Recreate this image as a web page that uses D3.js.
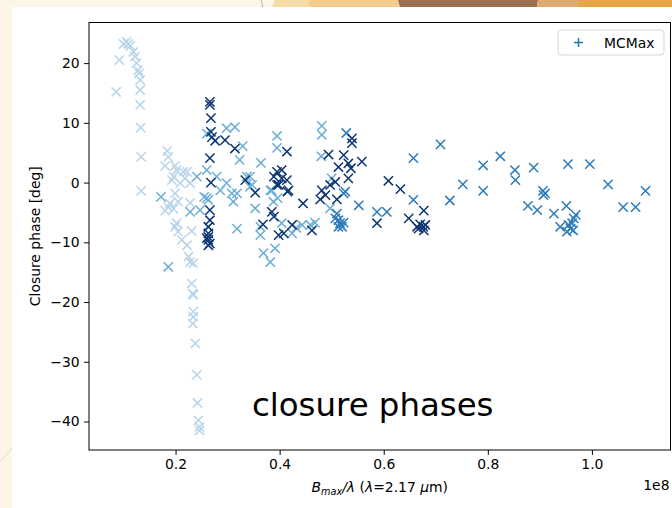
<!DOCTYPE html>
<html>
<head>
<meta charset="utf-8">
<script src="https://cdn.jsdelivr.net/npm/d3@7"></script>
<style>
  html, body { margin: 0; padding: 0; background: #fcf5e8; }
  svg { display: block; }
  text { font-family: "DejaVu Sans", sans-serif; }
</style>
</head>
<body>
<svg id="chart" width="672" height="508"></svg>
<script>
// Closure phases (deg) against B_max/lambda (units of 1e8), four baseline groups.
const shortX = [0.086,0.092,0.100,0.106,0.109,0.113,0.119,0.122,0.125,0.128,0.130,0.132,0.132,0.132,0.133,0.134,0.134,
  0.184,0.186,0.180,0.199,0.202,0.196,0.209,0.222,0.218,0.228,0.199,0.205,0.186,0.180,0.196,0.202,0.199,0.231,0.228,0.215,
  0.193,0.189,0.205,0.212,0.225,0.222,0.228,0.234,0.231,0.233,0.234,0.234,0.234,0.233,0.238,0.241,0.242,0.244,0.246,0.246];
const shortY = [15.2,20.5,23.2,23.6,23.2,22.9,21.9,21.1,20.0,18.8,18.3,17.2,15.5,13.0,9.2,4.3,-1.4,
  5.3,4.3,2.8,2.8,2.1,1.0,-0.1,1.8,0.7,-0.1,-1.8,-3.2,-4.1,-4.7,-4.4,-6.8,-7.4,-8.1,-3.4,1.8,
  0.4,-3.5,-8.2,-9.6,-12.4,-10.5,-13.3,-13.5,-16.9,-18.6,-18.8,-21.6,-22.5,-23.6,-26.9,-32.2,-36.9,-39.8,-40.9,-41.5];

const midX = [0.172,0.186,0.260,0.298,0.314,0.329,0.323,0.364,0.395,0.395,0.241,0.260,0.279,0.298,0.286,0.308,0.318,0.311,0.337,0.343,
  0.353,0.363,0.318,0.228,0.247,0.260,0.255,0.263,0.263,0.385,0.388,0.481,0.481,0.480,0.500,0.396,0.404,0.363,0.369,0.391,
  0.382,0.443,0.459,0.424,0.468,0.343,0.347,0.382,0.497,0.432];
const midY = [-2.4,-14.1,8.2,9.1,9.3,6.1,3.8,3.3,7.8,5.8,1.0,2.1,1.0,-0.1,-1.3,-1.8,-1.8,-3.2,1.0,-0.7,
  -4.3,-7.4,-7.7,-4.9,-4.6,-2.6,-2.4,-2.9,-7.4,-1.3,-3.2,9.5,8.0,4.4,0.7,-2.6,-6.8,-8.8,-11.8,-11.0,
  -13.3,-7.1,-7.1,-8.5,-6.7,1.0,-0.4,-1.3,-4.3,-7.6];

const longX = [0.528,0.523,0.526,0.516,0.523,0.520,0.513,0.552,0.587,0.606,0.657,0.657,0.709,0.727,0.752,0.791,0.791,0.824,0.852,0.853,
  0.888,0.877,0.895,0.906,0.910,0.907,0.927,0.939,0.951,0.954,0.996,1.031,1.060,1.084,1.103,0.952,0.962,0.965,0.969,0.959,
  0.964,0.955,0.510,0.507,0.513];
const longY = [8.3,-1.8,-1.5,-6.8,-6.7,-7.4,-7.4,-3.8,-4.9,-4.9,-2.9,4.1,6.4,-3.0,-0.3,2.9,-1.4,4.4,2.1,0.4,
  2.5,-3.9,-4.6,-1.4,-1.8,-2.1,-5.2,-7.4,-3.9,3.1,3.1,-0.3,-4.1,-4.1,-1.4,-8.2,-6.8,-6.0,-5.4,-7.7,
  -8.0,-7.1,-5.2,-6.0,-6.3];

const darkX = [0.266,0.266,0.268,0.268,0.270,0.276,0.295,0.314,0.266,0.268,0.334,0.353,0.266,0.266,0.263,0.263,0.263,0.263,0.266,0.260,
  0.263,0.385,0.389,0.368,0.389,0.395,0.398,0.398,0.404,0.414,0.417,0.414,0.424,0.445,0.494,0.539,0.539,0.523,0.532,0.513,
  0.537,0.558,0.532,0.507,0.497,0.481,0.488,0.478,0.510,0.609,0.632,0.587,0.648,0.664,0.462,0.408,0.677,0.667,0.676,0.680,
  0.677,0.670,0.404,0.395,0.415];
const darkY = [13.5,13.0,10.8,8.5,7.6,7.0,7.1,5.7,4.1,0.0,0.4,-1.7,-4.6,-6.3,-7.4,-9.1,-9.6,-10.5,-10.2,-9.3,
  -8.5,-4.9,-5.7,-7.0,1.0,1.8,-0.4,-8.8,2.1,0.4,-1.3,5.2,-7.1,-3.5,4.7,7.4,6.6,4.6,3.2,2.6,
  2.4,3.5,0.7,0.1,-0.4,-1.3,-2.1,-2.8,-2.8,0.3,-1.1,-6.8,-6.0,-7.4,-8.0,-8.5,-4.7,-7.7,-7.4,-7.1,
  -8.0,-7.0,0.7,-0.4,-1.5];

const groups = [
  { xs: shortX, ys: shortY, color: "#b7d4ea" },
  { xs: midX,   ys: midY,   color: "#6aaed6" },
  { xs: longX,  ys: longY,  color: "#2c7bba" },
  { xs: darkX,  ys: darkY,  color: "#0b3473" }
];

const xTicks = [0.2, 0.4, 0.6, 0.8, 1.0];
const yTicks = [-40, -30, -20, -10, 0, 10, 20];
const legendLabel = "MCMax";

const svg = d3.select("#chart");

// page background and the white panel
svg.append("rect").attr("x", 0).attr("y", 0).attr("width", 672).attr("height", 508).attr("fill", "#fcf5e8");
svg.append("rect").attr("x", 12).attr("y", 7).attr("width", 660).attr("height", 501).attr("fill", "#ffffff");

// decorative colour band along the top edge
const band = [
  { pts: [[275,0],[309,0],[309,7],[272,7]], fill: "#f6dba9" },
  { pts: [[309,0],[398,0],[400,7],[309,7]], fill: "#f4cd8e" },
  { pts: [[398,0],[538,0],[537,7],[400,7]], fill: "#9d6f51" },
  { pts: [[538,0],[579,0],[579,7],[537,7]], fill: "#ddab72" },
  { pts: [[579,0],[672,0],[672,7],[579,7]], fill: "#e9a444" }
];
svg.append("g").selectAll("polygon").data(band).join("polygon")
  .attr("points", d => d.pts.map(p => p.join(",")).join(" "))
  .attr("fill", d => d.fill);
svg.append("path").attr("d", "M261,0 Q262.5,3.5 262.5,7").attr("stroke", "#b9b4ac").attr("stroke-width", 1).attr("fill", "none");
svg.append("path").attr("d", "M0,462 L12,448").attr("stroke", "#ddd6cc").attr("stroke-width", 1).attr("fill", "none");

// plot area
const plotL = 89, plotR = 670.5, plotT = 22.5, plotB = 450;
const x = d3.scaleLinear().domain([0.0337, 1.151]).range([plotL, plotR]);
const y = d3.scaleLinear().domain([-44.77, 26.8]).range([plotB, plotT]);

// markers
const h = 4.6;
const cross = `M${-h},${-h}L${h},${h}M${-h},${h}L${h},${-h}`;
const plot = svg.append("g");
groups.forEach(g => {
  const pts = g.xs.map((v, i) => [v, g.ys[i]]);
  plot.append("g").selectAll("path").data(pts).join("path")
    .attr("d", cross)
    .attr("transform", d => `translate(${x(d[0])},${y(d[1])})`)
    .attr("stroke", g.color)
    .attr("stroke-width", 1.5)
    .attr("fill", "none");
});

// axes
const xAxis = d3.axisBottom(x).tickValues(xTicks).tickFormat(d3.format(".1f")).tickSize(4.9).tickPadding(4.5);
const yAxis = d3.axisLeft(y).tickValues(yTicks).tickFormat(d3.format("d")).tickSize(4.9).tickPadding(4.5);

const gx = svg.append("g").attr("transform", `translate(0,${plotB})`).call(xAxis);
const gy = svg.append("g").attr("transform", `translate(${plotL},0)`).call(yAxis);
[gx, gy].forEach(g => {
  g.select(".domain").remove();
  g.selectAll(".tick line").attr("stroke", "#000").attr("stroke-width", 1);
  g.selectAll(".tick text").attr("fill", "#000").style("font-size", "13.9px").style("font-family", "DejaVu Sans");
});

// frame
svg.append("rect").attr("x", plotL).attr("y", plotT).attr("width", plotR - plotL).attr("height", plotB - plotT)
  .attr("fill", "none").attr("stroke", "#000").attr("stroke-width", 1);

// axis labels
svg.append("text").attr("transform", `translate(40,${(plotT + plotB) / 2}) rotate(-90)`)
  .attr("text-anchor", "middle").style("font-size", "13.9px").text("Closure phase [deg]");

const xl = svg.append("text").attr("x", (plotL + plotR) / 2).attr("y", 492)
  .attr("text-anchor", "middle").style("font-size", "13.9px");
xl.append("tspan").style("font-style", "italic").text("B");
xl.append("tspan").style("font-style", "italic").style("font-size", "9.7px").attr("dy", 3).text("max");
xl.append("tspan").style("font-style", "italic").attr("dy", -3).text("/λ");
xl.append("tspan").text(" (");
xl.append("tspan").style("font-style", "italic").text("λ");
xl.append("tspan").text("=2.17 ");
xl.append("tspan").style("font-style", "italic").text("μ");
xl.append("tspan").text("m)");

svg.append("text").attr("x", plotR - 1).attr("y", 490).attr("text-anchor", "end")
  .style("font-size", "13.9px").text("1e8");

// legend
const lg = svg.append("g");
lg.append("rect").attr("x", 558).attr("y", 30).attr("width", 106).attr("height", 25).attr("rx", 3)
  .attr("fill", "#fff").attr("stroke", "#d6d6d6").attr("stroke-width", 1);
lg.append("path").attr("d", "M574,42.5H583M578.5,38V47").attr("stroke", "#1f77b4").attr("stroke-width", 1.5);
lg.append("text").attr("x", 604).attr("y", 47.5).style("font-size", "13.9px").text(legendLabel);

// overlay caption
svg.append("text").attr("x", 252).attr("y", 416).style("font-size", "32.4px").attr("fill", "#000").text("closure phases");
</script>
</body>
</html>
